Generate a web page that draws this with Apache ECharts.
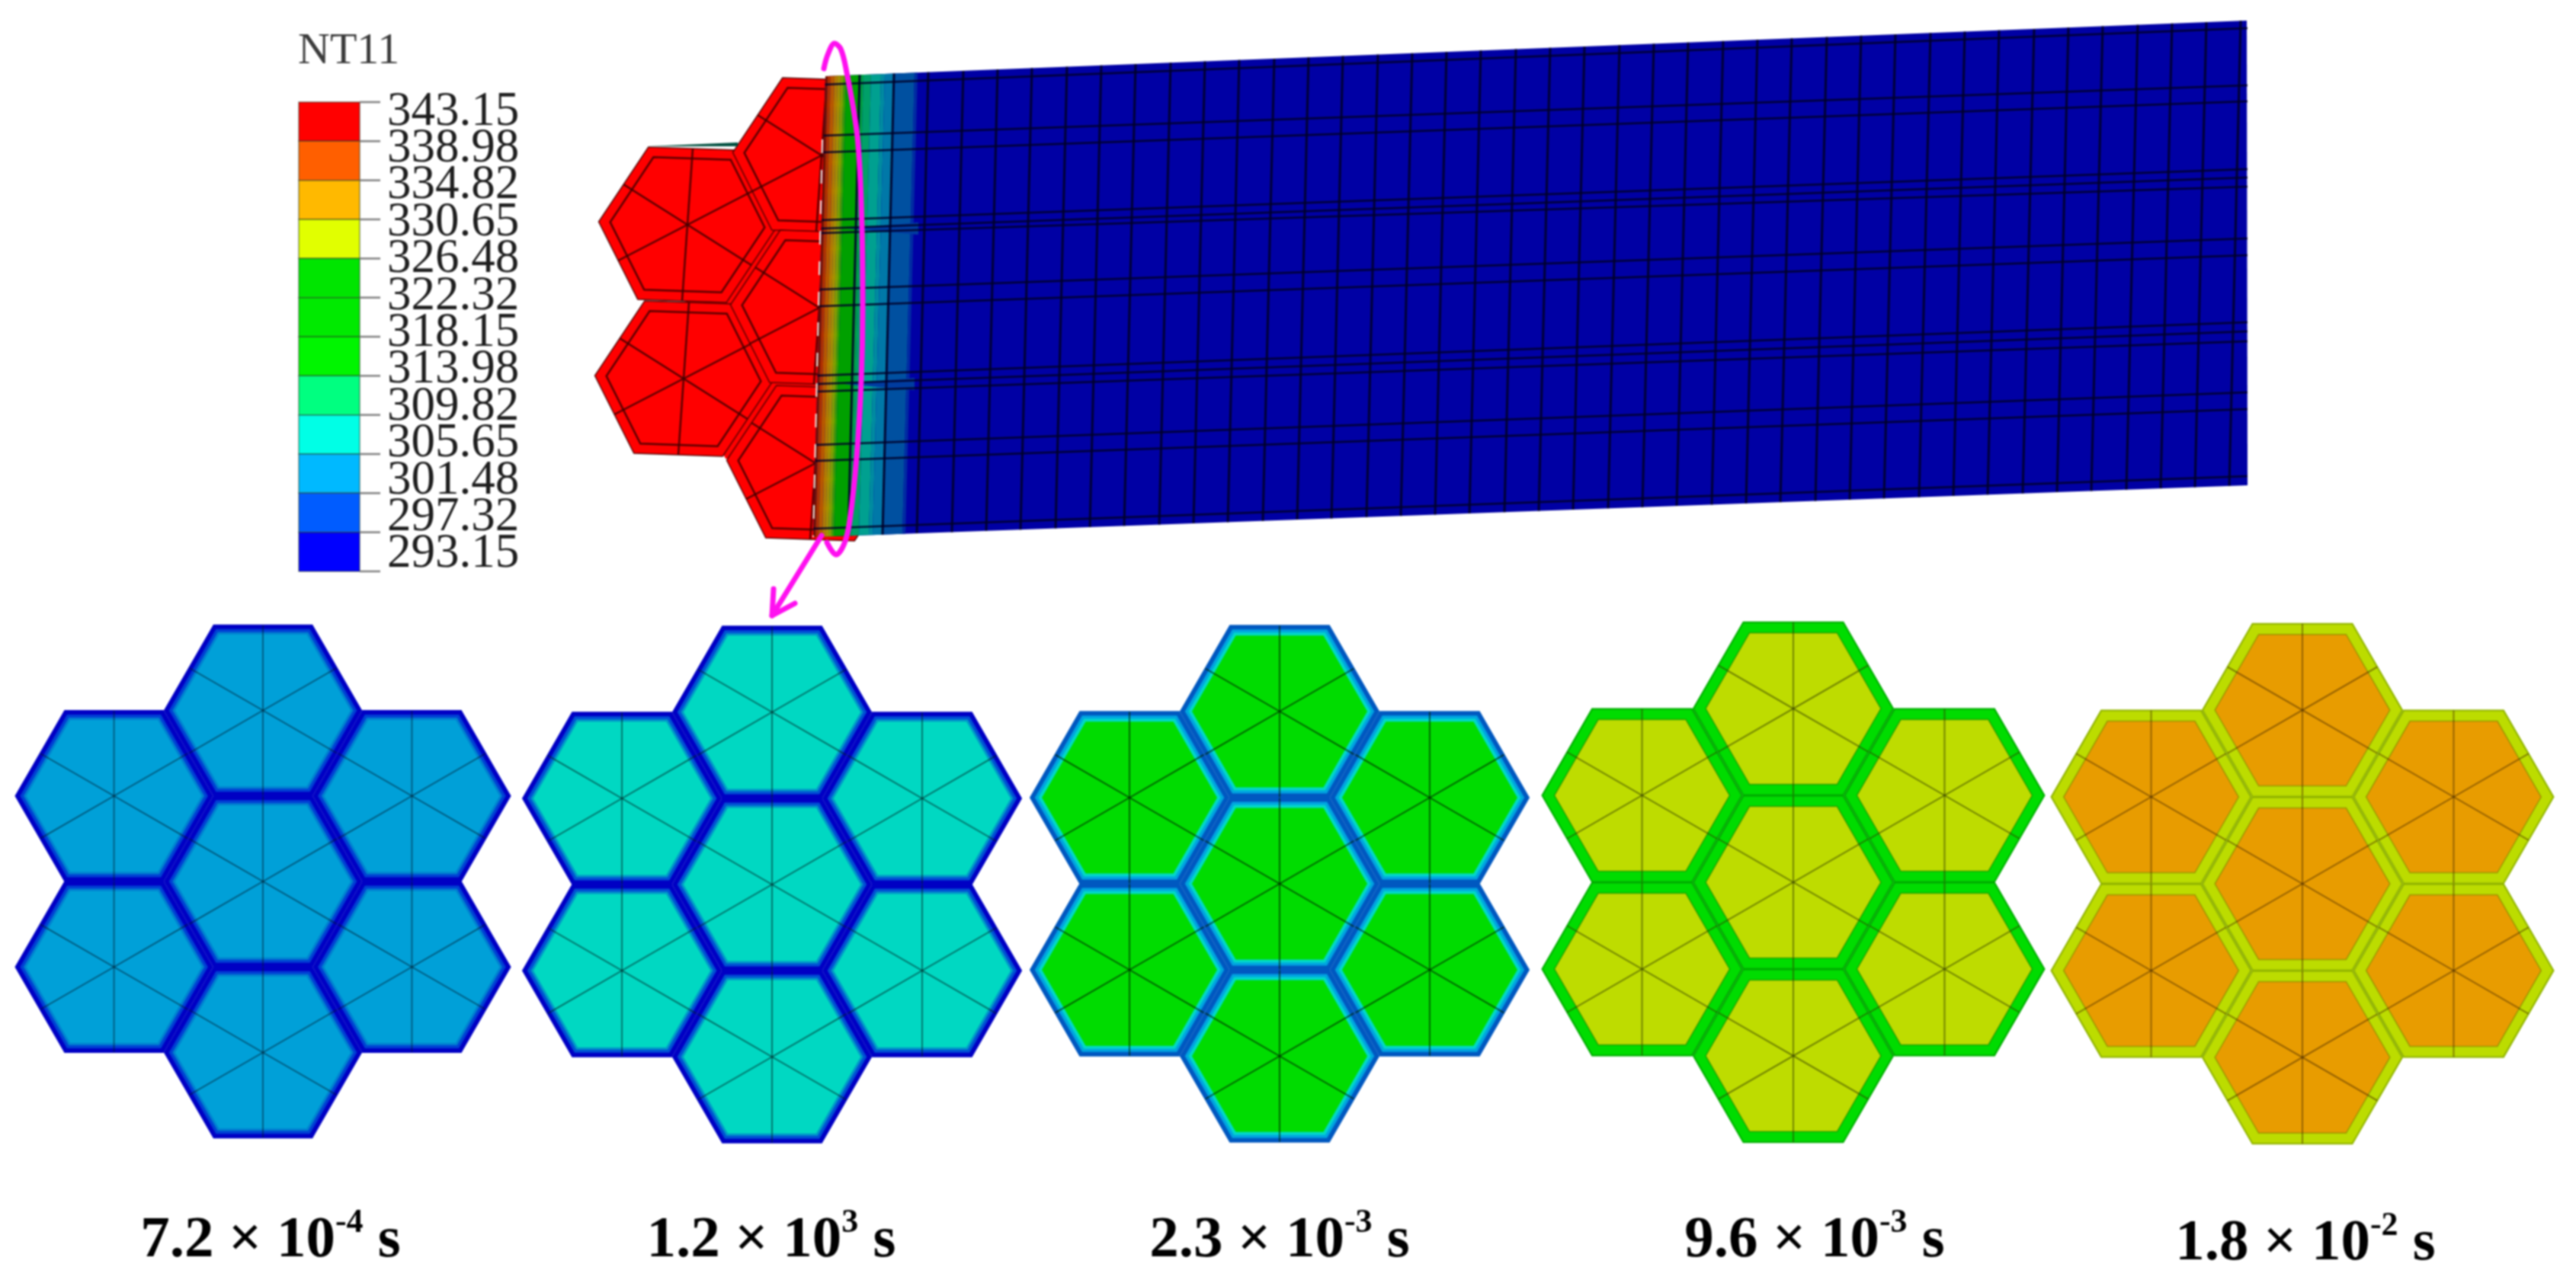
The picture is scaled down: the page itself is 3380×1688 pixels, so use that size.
<!DOCTYPE html>
<html>
<head>
<meta charset="utf-8">
<title>NT11</title>
<script src="https://cdn.jsdelivr.net/npm/echarts@6/dist/echarts.min.js"></script>
<style>
html,body{margin:0;padding:0;background:#fff}
#main{width:3380px;height:1688px;filter:blur(.9px)}
</style>
</head>
<body>
<div id="main"></div>
<script>
// legend values, top to bottom
var legendLabels = ['343.15','338.98','334.82','330.65','326.48','322.32','318.15','313.98','309.82','305.65','301.48','297.32','293.15'];
var legendColors = ['#ff0000','#ff5f00','#ffb900','#e1ff00','#00e500','#00ea00','#00f500','#00ff80','#00ffe6','#00b9ff','#005cff','#0000ff'];

// snapshot times under the panels
var captionMain = ['7.2 × 10','1.2 × 10','2.3 × 10','9.6 × 10','1.8 × 10'];
var captionExp = ['-4','3','-3','-3','-2'];
var captionX = [355,1012,1679,2381,3025];
var captionY = [1626,1626,1626,1626,1630];

// panel centres and hexagon circumradius
var panelX = [345,1013,1679,2353,3021];
var panelY = [1157,1161,1160,1158,1160];
var panelR = [129,130,130,131,131];
// seven hexagons: column step, row step (in units of R)
var hexCol = [0,0,0,-1,-1,1,1];
var hexRow = [-1,0,1,-0.5,0.5,-0.5,0.5];

// shell colours of each panel, outside to inside, last one is the core
var panelColors = [
  ['#0000c4','#0040d4','#0080d0','#00a0d8'],
  ['#0000c4','#0050d4','#0098c8','#00d8c2'],
  ['#0058c0','#00a4e0','#00d8c8','#00dc00'],
  ['#00d800','#00dc00','#00dc00','#bedc00'],
  ['#b4d800','#bcdc00','#bcdc00','#e89c00']
];
var panelDepth = [[5,9,12],[5,9,12],[5,9,13],[2,8,14],[2,8,14]];
var panelLine = ['rgba(0,30,50,.55)','rgba(0,40,40,.6)','rgba(0,40,0,.7)','rgba(50,60,0,.6)','rgba(70,40,0,.55)'];
var panelEdge = ['','','','rgba(0,90,0,.45)','rgba(70,100,0,.4)'];

// red fibre ends in front of the beam
var redX = [902,897,1078,1075,1070];
var redY = [295,497,204,404,608];
var redU = [116.5,4];
var redV = [7,-100];
// fills the slits between the red hexagons
var redBack = [[902,295],[1078,204],[1075,404],[1070,608],[952,602],[897,497]];

// beam mesh, rows at the left and right end
var rowLeft = [111,178,200,289,300,306,380,402,493,504,514,584,605,694];
var rowRight = [37,112,133,222,233,245,313,335,423,435,448,515,537,625];
// beam mesh columns along the top edge
var columnX = [1128,1173,1218,1264,1309,1354,1400,1445,1490,1536,1581,1626,1672,1717,1762,1808,1853,1898,1943,1989,2034,2079,2125,2170,2215,2261,2306,2351,2397,2442,2487,2533,2578,2623,2669,2714,2759,2805,2850,2895,2940];
// temperature bands next to the heated end, distance from the beam end
var bandFrom = [0,3,7,12,16,20,24,27,45,50,60,73,78,90,117];
var bandTo = [3,7,12,16,20,24,27,45,50,60,73,78,90,117,121];
var bandColors = ['#701000','#b03000','#b85800','#b47c00','#a89000','#80a000','#40a000','#00a000','#00a040','#00a068','#00a090','#008ca0','#0078a8','#0050a0','#002ca2'];

// magenta callout
var ellipsePoints = [[1081,90],[1086,72],[1095,57],[1103,64],[1110,90],[1125,180],[1131,300],[1132,404],[1130,500],[1124,600],[1115,683],[1108,713],[1097,728],[1085,712]];
var arrowShaft = [[1078,703],[1013,808]];
var arrowHead = [[1015,773],[1013,808],[1043,792]];

var SERIF = '"Liberation Serif","Times New Roman",serif';

var beamTL = [1083,100], beamTR = [2948,27], beamBL = [1067,705], beamBR = [2949,637];

function topY(x){
  return beamTL[1] + (x - beamTL[0]) * (beamTR[1] - beamTL[1]) / (beamTR[0] - beamTL[0]);
}
function botY(x){
  return beamBL[1] + (x - beamBL[0]) * (beamBR[1] - beamBL[1]) / (beamBR[0] - beamBL[0]);
}

function hexPoints(c,u,v,k){
  return [
    [c[0]+k*u[0], c[1]+k*u[1]],
    [c[0]+k*(.5*u[0]+v[0]), c[1]+k*(.5*u[1]+v[1])],
    [c[0]+k*(-.5*u[0]+v[0]), c[1]+k*(-.5*u[1]+v[1])],
    [c[0]-k*u[0], c[1]-k*u[1]],
    [c[0]+k*(-.5*u[0]-v[0]), c[1]+k*(-.5*u[1]-v[1])],
    [c[0]+k*(.5*u[0]-v[0]), c[1]+k*(.5*u[1]-v[1])]
  ];
}

function spokeEnds(c,u,v){
  return [
    [c[0]+v[0], c[1]+v[1]],
    [c[0]-v[0], c[1]-v[1]],
    [c[0]+.75*u[0]+.5*v[0], c[1]+.75*u[1]+.5*v[1]],
    [c[0]-.75*u[0]+.5*v[0], c[1]-.75*u[1]+.5*v[1]],
    [c[0]+.75*u[0]-.5*v[0], c[1]+.75*u[1]-.5*v[1]],
    [c[0]-.75*u[0]-.5*v[0], c[1]-.75*u[1]-.5*v[1]]
  ];
}

function poly(api,pts,style){
  return {type:'polygon', shape:{points:pts.map(function(p){return api.coord(p)})}, style:style};
}
function seg(api,a,b,color,width){
  var p = api.coord(a), q = api.coord(b);
  return {type:'line', shape:{x1:p[0],y1:p[1],x2:q[0],y2:q[1]}, style:{stroke:color,lineWidth:width,fill:null}};
}

// one hexagon of a lower panel
function renderPanelHex(params,api){
  var p = api.value(0), col = api.value(1), row = api.value(2);
  var R = panelR[p];
  var apothem = .866 * R;
  var c = [panelX[p] + col * 1.515 * R, panelY[p] + row * 2 * (apothem + .5)];
  var u = [R,0], v = [0,-apothem];
  var colors = panelColors[p], depth = panelDepth[p];
  var kids = [];
  kids.push(poly(api,hexPoints(c,u,v,1),{fill:colors[0],stroke:colors[0],lineWidth:2}));
  for(var i=0;i<depth.length;i++){
    kids.push(poly(api,hexPoints(c,u,v,1-depth[i]/apothem),{fill:colors[i+1]}));
  }
  if(p > 2){
    kids.push(poly(api,hexPoints(c,u,v,1-depth[2]/apothem),{fill:'none',stroke:panelEdge[p],lineWidth:1.5}));
    kids.push(poly(api,hexPoints(c,u,v,1),{fill:'none',stroke:panelEdge[p],lineWidth:1.5}));
  }
  spokeEnds(c,u,v).forEach(function(e){
    kids.push(seg(api,c,e,panelLine[p],1.8));
  });
  return {type:'group',children:kids};
}

function renderRedBack(params,api){
  return poly(api,redBack,{fill:'#ff0000'});
}

function renderRedHex(params,api){
  var c = [api.value(0),api.value(1)];
  var lineColor = 'rgba(70,0,0,.9)';
  var kids = [];
  kids.push(poly(api,hexPoints(c,redU,redV,1),{fill:'#ff0000',stroke:lineColor,lineWidth:1.5}));
  kids.push(poly(api,hexPoints(c,redU,redV,.87),{fill:'#ff0000',stroke:lineColor,lineWidth:2.5}));
  spokeEnds(c,redU,redV).forEach(function(e){
    kids.push(seg(api,c,e,lineColor,2.5));
  });
  return {type:'group',children:kids};
}

function renderBeam(params,api){
  var kids = [];
  kids.push(poly(api,[beamTL,beamTR,beamBR,beamBL],{fill:'#0000a4'}));
  bandColors.forEach(function(color,i){
    var a = beamTL[0]+bandFrom[i], b = beamTL[0]+bandTo[i];
    var a2 = beamBL[0]+bandFrom[i], b2 = beamBL[0]+bandTo[i];
    kids.push(poly(api,[[a,topY(a)],[b,topY(b)],[b2,botY(b2)],[a2,botY(a2)]],{fill:color}));
  });
  // dark wedges where two fibres meet
  [[1080,300],[1075,504]].forEach(function(w){
    kids.push(poly(api,[[w[0]+32,w[1]],[w[0]+125,w[1]-8],[w[0]+125,w[1]+8]],{fill:'#003ca0'}));
  });
  rowLeft.forEach(function(y,i){
    var f = (y-beamTL[1])/(beamBL[1]-beamTL[1]);
    kids.push(seg(api,[beamTL[0]+(beamBL[0]-beamTL[0])*f,y],[beamBR[0],rowRight[i]],'rgba(0,0,40,.9)',2.5));
  });
  columnX.forEach(function(x){
    kids.push(seg(api,[x,topY(x)],[x-15,botY(x-15)],'rgba(0,0,40,.9)',3));
  });
  // rough light seam between red end and beam
  var seam = seg(api,[1079,183],[1067,705],'#f4f0e8',2);
  seam.style.lineDash = [18,22];
  kids.push(seam);
  // sliver of the far side above the left fibre
  kids.push(poly(api,[[850,192],[968,187],[968,192]],{fill:'#005040'}));
  return {type:'group',children:kids};
}

function renderLegend(params,api){
  var i = api.value(0);
  var step = 51.33, top = 134;
  var kids = [];
  if(i < legendColors.length){
    var a = api.coord([392,top+i*step]), b = api.coord([472,top+(i+1)*step]);
    kids.push({type:'rect',shape:{x:a[0],y:a[1],width:b[0]-a[0],height:b[1]-a[1]},
      style:{fill:legendColors[i],stroke:'rgba(40,60,40,.55)',lineWidth:1.5}});
  }
  kids.push(seg(api,[472,top+i*step],[499,top+i*step],'#808080',2.5));
  var t = api.coord([508,147+i*48.4]);
  kids.push({type:'text',x:t[0],y:t[1],style:{text:legendLabels[i],font:'63px '+SERIF,fill:'#1e1e1e',align:'left',verticalAlign:'middle'}});
  return {type:'group',children:kids};
}

function renderCaption(params,api){
  var i = api.value(0);
  var t = api.coord([captionX[i],captionY[i]]);
  return {type:'text',x:t[0],y:t[1],style:{
    text:'{b|'+captionMain[i]+'}{e|'+captionExp[i]+'}{b| s}',
    align:'center',verticalAlign:'middle',
    rich:{
      b:{font:'bold 77px '+SERIF,fill:'#000',lineHeight:84,verticalAlign:'bottom'},
      e:{font:'bold 44px '+SERIF,fill:'#000',lineHeight:50,verticalAlign:'top'}
    }
  }};
}

function renderTitle(params,api){
  var t = api.coord([391,68]);
  return {type:'text',x:t[0],y:t[1],style:{text:'NT11',font:'58px '+SERIF,fill:'#3c3c3c',align:'left',verticalAlign:'middle'}};
}

var hexData = [];
panelX.forEach(function(x,p){
  hexCol.forEach(function(c,h){ hexData.push([p,c,hexRow[h]]) });
});

function customSeries(render,data,z){
  return {type:'custom',coordinateSystem:'cartesian2d',renderItem:render,data:data,silent:true,clip:false,z:z,animation:false};
}
function magentaLine(data,smooth,z){
  return {type:'line',data:data,smooth:smooth,symbol:'none',silent:true,z:z,animation:false,
    lineStyle:{color:'#ff10f0',width:7,cap:'round',join:'round'}};
}

var chart = echarts.init(document.getElementById('main'),null,{renderer:'canvas'});
chart.setOption({
  animation:false,
  backgroundColor:'#ffffff',
  grid:{left:0,right:0,top:0,bottom:0},
  xAxis:{type:'value',min:0,max:3380,show:false},
  yAxis:{type:'value',min:0,max:1688,inverse:true,show:false},
  series:[
    customSeries(renderPanelHex,hexData,1),
    customSeries(renderRedBack,[[0]],2),
    customSeries(renderRedHex,redX.map(function(x,i){return [x,redY[i]]}),2),
    customSeries(renderBeam,[[0]],3),
    customSeries(renderLegend,legendLabels.map(function(l,i){return [i]}),4),
    customSeries(renderTitle,[[0]],4),
    customSeries(renderCaption,captionMain.map(function(l,i){return [i]}),4),
    magentaLine(ellipsePoints,.35,5),
    magentaLine(arrowShaft,false,5),
    magentaLine(arrowHead,false,5)
  ]
});
</script>
</body>
</html>
